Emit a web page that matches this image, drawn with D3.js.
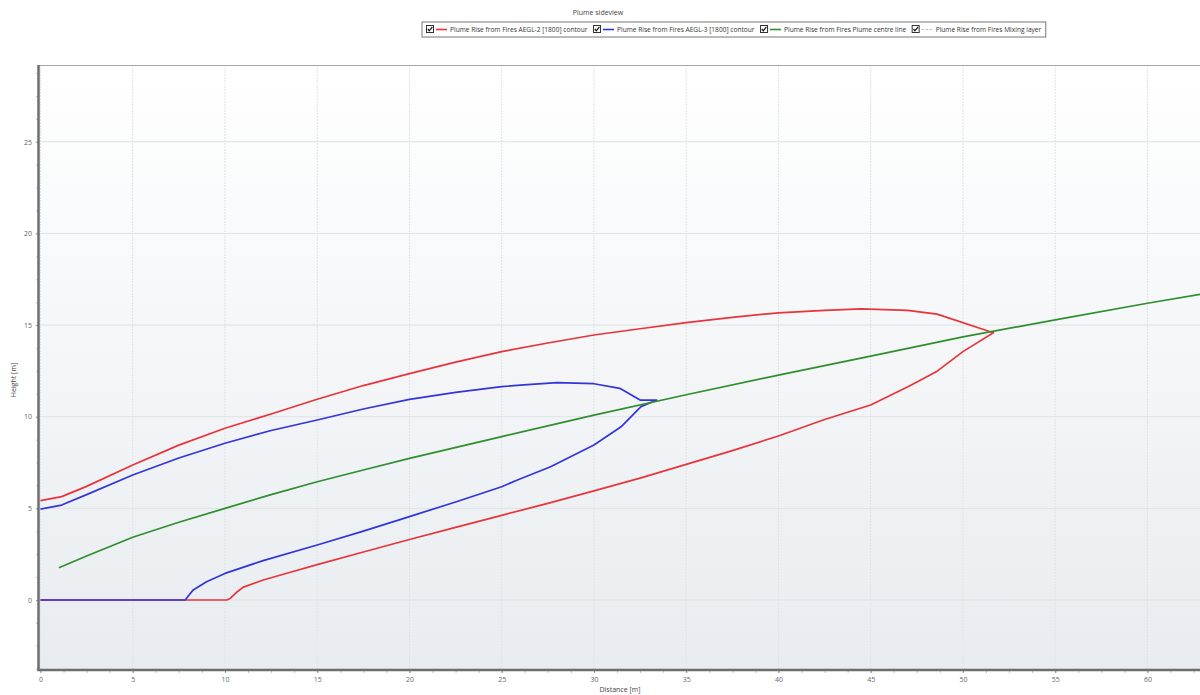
<!DOCTYPE html>
<html>
<head>
<meta charset="utf-8">
<script src="https://cdn.jsdelivr.net/npm/d3@7"></script>
<style>
  body { margin: 0; background: #ffffff; }
  svg text { font-family: "Open Sans", "Noto Sans", sans-serif; }
</style>
</head>
<body>
<div id="chart"></div>
<script>
// series: distance [m] and height [m]
const aegl2Dist = [0, 1.15, 2.5, 5, 7.5, 10, 12.5, 15, 17.5, 20, 22.5, 25, 27.5, 30, 32.5, 35, 37.5, 40, 42.5, 44.5, 47, 48.6, 51.65,
                   50, 48.55, 47.1, 45, 42.5, 40, 37.5, 35, 32.5, 30, 27.5, 25, 22.5, 20, 17.5, 15, 13.5, 12.07, 11, 10.63, 10.3, 10.1, 0]
const aegl2Height = [5.42, 5.64, 6.2, 7.36, 8.45, 9.37, 10.15, 10.95, 11.7, 12.35, 12.98, 13.55, 14.02, 14.46, 14.8, 15.13, 15.42, 15.67, 15.8, 15.88, 15.8, 15.6, 14.58,
                     13.55, 12.45, 11.67, 10.64, 9.85, 8.95, 8.15, 7.4, 6.65, 5.95, 5.27, 4.62, 3.96, 3.3, 2.62, 1.93, 1.5, 1.09, 0.7, 0.42, 0.1, 0, 0]

const aegl3Dist = [0, 1.15, 2.5, 5, 7.5, 10, 12.5, 15, 17.5, 20, 22.5, 25, 26, 28, 30, 31.4, 32.5, 33.4,
                   32.55, 31.47, 30, 27.65, 25.85, 25, 22.5, 20, 17.5, 15, 12.07, 10, 9, 8.28, 8.0, 7.85, 0]
const aegl3Height = [4.96, 5.18, 5.75, 6.82, 7.75, 8.55, 9.25, 9.82, 10.42, 10.95, 11.33, 11.64, 11.72, 11.86, 11.8, 11.55, 10.91, 10.91,
                     10.55, 9.45, 8.46, 7.27, 6.55, 6.18, 5.35, 4.55, 3.76, 3.0, 2.15, 1.45, 1.0, 0.55, 0.2, 0, 0]

const centreDist = [1, 2.5, 5, 7.5, 10, 12.5, 15, 17.5, 20, 25, 30, 35, 40, 45, 50, 55, 60, 63]
const centreHeight = [1.76, 2.4, 3.42, 4.24, 5.0, 5.75, 6.45, 7.09, 7.73, 8.91, 10.09, 11.2, 12.27, 13.31, 14.36, 15.28, 16.19, 16.7]

const xTicks = [0, 5, 10, 15, 20, 25, 30, 35, 40, 45, 50, 55, 60]
const yTicks = [0, 5, 10, 15, 20, 25]

const legendLabels = ["Plume Rise from Fires AEGL-2 [1800] contour",
                      "Plume Rise from Fires AEGL-3 [1800] contour",
                      "Plume Rise from Fires Plume centre line",
                      "Plume Rise from Fires Mixing layer"]
const seriesColors = ["#e8343a", "#3434dc", "#2f8f2f", "#a8b4c8"]

const width = 1200, height = 695
const plot = {left: 39, right: 1200, top: 65, bottom: 670}

const svg = d3.select("#chart").append("svg")
    .attr("width", width)
    .attr("height", height)

const x = d3.scaleLinear().domain([-0.08, 62.85]).range([plot.left, plot.right])
const y = d3.scaleLinear().domain([-3.82, 29.19]).range([plot.bottom, plot.top])

const defs = svg.append("defs")
const grad = defs.append("linearGradient")
    .attr("id", "bg").attr("x1", 0).attr("y1", 0).attr("x2", 0).attr("y2", 1)
grad.append("stop").attr("offset", "0%").attr("stop-color", "#ffffff")
grad.append("stop").attr("offset", "100%").attr("stop-color", "#e8ecf0")
defs.append("clipPath").attr("id", "clip")
    .append("rect")
    .attr("x", plot.left).attr("y", plot.top)
    .attr("width", plot.right - plot.left).attr("height", plot.bottom - plot.top)

// plot background
svg.append("rect")
    .attr("x", plot.left).attr("y", plot.top)
    .attr("width", plot.right - plot.left).attr("height", plot.bottom - plot.top)
    .attr("fill", "url(#bg)")

// grid lines
svg.append("g").selectAll("line")
    .data(xTicks)
    .enter().append("line")
    .attr("x1", d => x(d)).attr("x2", d => x(d))
    .attr("y1", plot.top).attr("y2", plot.bottom)
    .attr("stroke", "#dfe2e6")
    .attr("stroke-dasharray", "2,1")
svg.append("g").selectAll("line")
    .data(yTicks)
    .enter().append("line")
    .attr("x1", plot.left).attr("x2", plot.right)
    .attr("y1", d => y(d)).attr("y2", d => y(d))
    .attr("stroke", "#dfe2e6")

// axes
const minorX = d3.range(0, 63, 1.25)
const minorY = d3.range(-3.75, 29.2, 1.25)

svg.append("g")
    .attr("transform", "translate(0," + plot.bottom + ")")
    .call(d3.axisBottom(x).tickValues(minorX).tickSize(3).tickFormat(""))
    .call(g => g.select(".domain").remove())
    .selectAll("line").attr("stroke", "#c4c4c4")
svg.append("g")
    .attr("transform", "translate(0," + plot.bottom + ")")
    .call(d3.axisBottom(x).tickValues(xTicks).tickSize(3).tickPadding(4))
    .call(g => g.select(".domain").remove())
    .call(g => g.selectAll("line").attr("stroke", "#999"))
    .call(g => g.selectAll("text").style("font-size", "7px").attr("fill", "#666"))

svg.append("g")
    .attr("transform", "translate(" + plot.left + ",0)")
    .call(d3.axisLeft(y).tickValues(minorY).tickSize(3).tickFormat(""))
    .call(g => g.select(".domain").remove())
    .selectAll("line").attr("stroke", "#c4c4c4")
svg.append("g")
    .attr("transform", "translate(" + plot.left + ",0)")
    .call(d3.axisLeft(y).tickValues(yTicks).tickSize(3).tickPadding(4))
    .call(g => g.select(".domain").remove())
    .call(g => g.selectAll("line").attr("stroke", "#999"))
    .call(g => g.selectAll("text").style("font-size", "7px").attr("fill", "#666"))

// plot frame
svg.append("line")
    .attr("x1", plot.left).attr("x2", plot.right)
    .attr("y1", plot.top + 0.5).attr("y2", plot.top + 0.5)
    .attr("stroke", "#a8a8a8")
svg.append("line")
    .attr("x1", plot.left - 0.5).attr("x2", plot.left - 0.5)
    .attr("y1", plot.top).attr("y2", plot.bottom + 1)
    .attr("stroke", "#6e6e6e").attr("stroke-width", 2.5)
svg.append("line")
    .attr("x1", plot.left - 1.5).attr("x2", plot.right)
    .attr("y1", plot.bottom).attr("y2", plot.bottom)
    .attr("stroke", "#6e6e6e").attr("stroke-width", 2.5)

// series
const line = d3.line()
    .x(d => x(d[0]))
    .y(d => y(d[1]))

const series = [
    d3.zip(aegl2Dist, aegl2Height),
    d3.zip(aegl3Dist, aegl3Height),
    d3.zip(centreDist, centreHeight)
]
const lines = svg.append("g").attr("clip-path", "url(#clip)")
series.forEach(function (s, i) {
    lines.append("path")
        .datum(s)
        .attr("fill", "none")
        .attr("stroke", seriesColors[i])
        .attr("stroke-width", 1.7)
        .attr("stroke-linejoin", "round")
        .attr("d", line)
})

// titles
svg.append("text")
    .attr("x", 598).attr("y", 15)
    .attr("text-anchor", "middle")
    .attr("fill", "#444")
    .style("font-size", "7px")
    .text("Plume sideview")
svg.append("text")
    .attr("x", 620).attr("y", 692)
    .attr("text-anchor", "middle")
    .attr("fill", "#444")
    .style("font-size", "7px")
    .text("Distance [m]")
svg.append("text")
    .attr("transform", "translate(16,380) rotate(-90)")
    .attr("text-anchor", "middle")
    .attr("fill", "#444")
    .style("font-size", "7px")
    .text("Height [m]")

// legend
const legend = svg.append("g")
const legendBox = legend.append("rect")
    .attr("x", 422).attr("y", 22)
    .attr("height", 15)
    .attr("fill", "#fff")
    .attr("stroke", "#777")
let lx = 426
legendLabels.forEach(function (label, i) {
    const item = legend.append("g").attr("transform", "translate(" + lx + ",25)")
    item.append("rect")
        .attr("x", 0.5).attr("y", 0.5)
        .attr("width", 7).attr("height", 7)
        .attr("fill", "#fff")
        .attr("stroke", "#333")
    item.append("path")
        .attr("d", "M1.8,4 L3.3,5.8 L6.4,1.8")
        .attr("fill", "none")
        .attr("stroke", "#111")
        .attr("stroke-width", 1.2)
    item.append("line")
        .attr("x1", 10).attr("x2", 21)
        .attr("y1", 4.5).attr("y2", 4.5)
        .attr("stroke", seriesColors[i])
        .attr("stroke-width", i === 3 ? 1 : 1.6)
        .attr("stroke-dasharray", i === 3 ? "2,2" : null)
    const t = item.append("text")
        .attr("x", 24).attr("y", 6.6)
        .style("font-size", "6.6px")
        .attr("fill", "#333")
        .text(label)
    lx += 24 + t.node().getComputedTextLength() + 5.5
})
legendBox.attr("width", lx - 422 - 1)
</script>
</body>
</html>
